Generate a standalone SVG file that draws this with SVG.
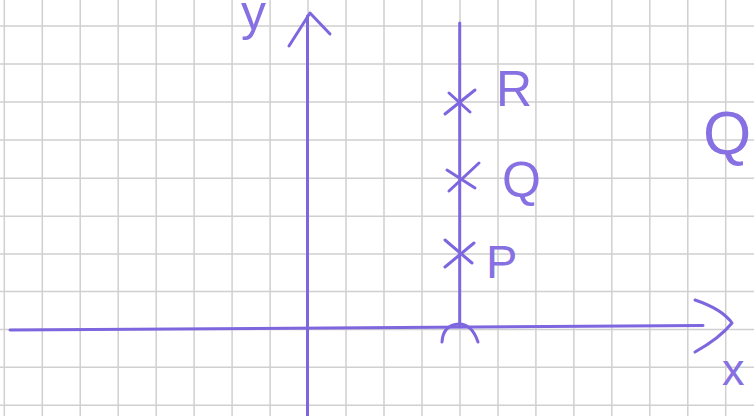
<svg xmlns="http://www.w3.org/2000/svg" width="754" height="416" viewBox="0 0 754 416">
<style>
.grid{stroke:#d0d0d0;stroke-width:1.5;fill:none}
.ink{stroke:#7e66df;stroke-width:3;fill:none;stroke-linecap:round;stroke-linejoin:round}
.lbl{fill:#8670e2;font-family:"Liberation Sans",Arial,sans-serif}
</style>
<rect width="754" height="416" fill="#ffffff"/>
<g id="grid">
<path class="grid" d="M4.3 0V416M42.3 0V416M80.2 0V416M118.2 0V416M156.2 0V416M194.1 0V416M232.1 0V416M270.1 0V416M308 0V416M346 0V416M384 0V416M422 0V416M460 0V416M498 0V416M535.9 0V416M573.9 0V416M611.8 0V416M649.8 0V416M687.8 0V416M725.7 0V416"/>
<path class="grid" d="M0 26H754M0 64H754M0 102H754M0 140H754M0 178.3H754M0 216.3H754M0 254H754M0 291.5H754M0 329.5H754M0 367.3H754M0 405.3H754"/>
</g>
<g id="connectors">
<path id="y-axis" class="ink" d="M307.5 416L307.5 16"/>
<path class="ink" d="M289 46L310 13L330 34"/>
<path id="x-axis" class="ink" d="M10 330L703 325.5"/>
<path class="ink" d="M695 300Q722 309 732 323Q720 338 695 352"/>
<path id="vline" class="ink" d="M459.7 23L459.7 325"/>
<path class="ink" d="M442 342Q443 325 459 324Q472 324 478 342"/>
</g>
<g id="point-R">
<path class="ink" d="M445 114L475 90M449 93L470 112"/>
<text class="lbl" x="496" y="106" font-size="50">R</text>
</g>
<g id="point-Q">
<path class="ink" d="M449 191L479 163M447 170L475 188"/>
<text class="lbl" x="502" y="197" font-size="50">Q</text>
</g>
<g id="point-P">
<path class="ink" d="M445 267L474 243M445 240L472 263"/>
<text class="lbl" x="486" y="278" font-size="47">P</text>
</g>
<g id="label-y"><text class="lbl" x="241" y="30" font-size="50">y</text></g>
<g id="label-x"><text class="lbl" x="722" y="385" font-size="45">x</text></g>
<g id="label-Q2"><text class="lbl" x="703" y="154" font-size="62">Q</text></g>
</svg>
